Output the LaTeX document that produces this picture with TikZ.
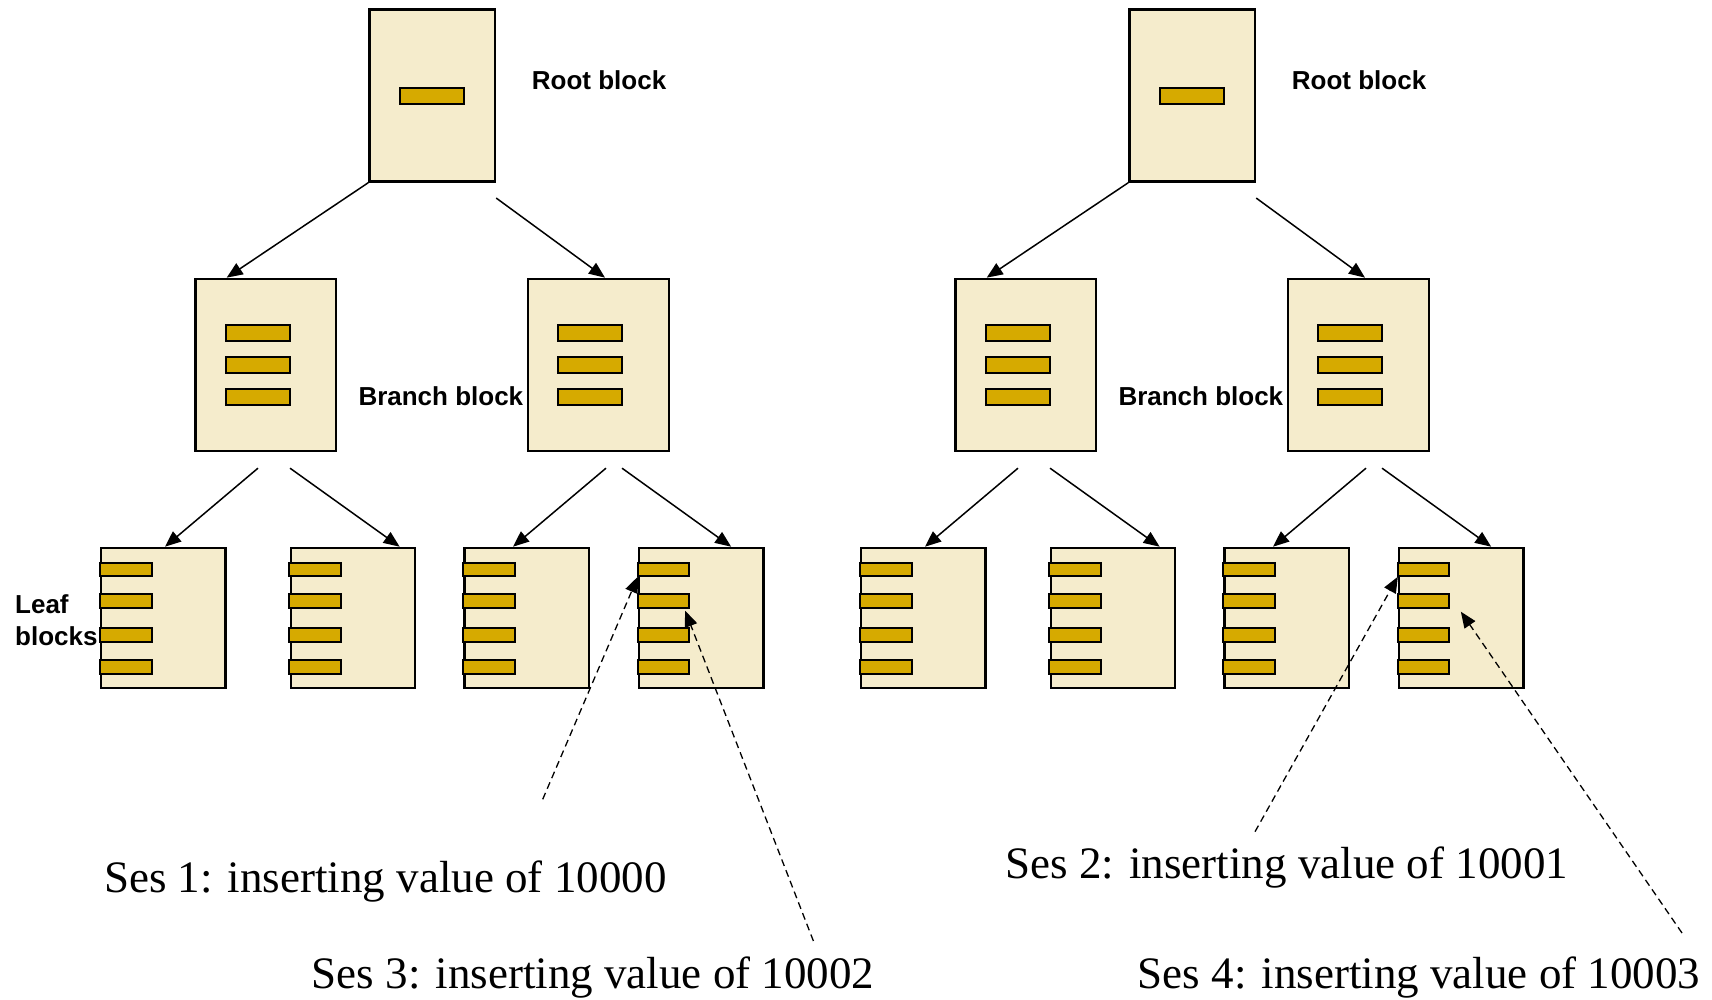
\documentclass[tikz,border=0pt]{standalone}
\usepackage{fontspec}
\setmainfont{Liberation Serif}
\newfontfamily\blockfont{Liberation Sans}
\usetikzlibrary{arrows.meta}
\definecolor{blockfill}{RGB}{245,236,204}
\definecolor{keyfill}{RGB}{214,170,0}
\begin{document}
\begin{tikzpicture}[x=1pt,y=-1pt,
  blockbox/.style={draw=black, line width=2.4pt, fill=blockfill, inner sep=0pt, rectangle},
  rootbox/.style={blockbox, minimum width=125.6pt, minimum height=172.1pt},
  branchbox/.style={blockbox, minimum width=140.6pt, minimum height=172.1pt},
  leafbox/.style={blockbox, minimum width=124.3pt, minimum height=140.2pt},
  keybar/.style={draw=black, line width=2pt, fill=keyfill},
  link/.style={line width=1.5pt, -{Triangle[length=16pt,width=13pt]}},
  session/.style={line width=1.3pt, dash pattern=on 7pt off 4.5pt, -{Triangle[length=16pt,width=13pt]}},
  tag/.style={font=\blockfont\bfseries\fontsize{26}{32.4}\selectfont, inner sep=0pt, anchor=base west},
  note/.style={font=\fontsize{45}{54}\selectfont, inner sep=0pt, anchor=base west}]
\useasboundingbox (0,0) rectangle (1712,999);

% two identical index trees, the second one shifted to the right
\foreach \t/\dx in {a/0,b/760}{
  \begin{scope}[xshift=\dx pt]
    % root block
    \node[rootbox] (\t-R) at (432.2,95.5) {};
    \draw[keybar] (400,88) rectangle (464.3,104);
    % branch blocks
    \node[branchbox] (\t-B1) at (265.8,364.9) {};
    \node[branchbox] (\t-B2) at (598.5,364.9) {};
    \foreach \bx in {226,558.3}{
      \foreach \by in {325,357,388.5}{
        \draw[keybar] (\bx,\by) rectangle ++(64,16);
      }
    }
    % leaf blocks
    \node[leafbox] (\t-L1) at (163.35,618) {};
    \node[leafbox] (\t-L2) at (353,618) {};
    \node[leafbox] (\t-L3) at (526.65,618) {};
    \node[leafbox] (\t-L4) at (701.2,618) {};
    \foreach \lx in {100,289.3,463.3,637.7}{
      \foreach \ly in {562.7,594,628.3,660}{
        \draw[keybar] (\lx,\ly) rectangle ++(51.7,13.5);
      }
    }
    % labels
    \node[tag] (\t-rootlabel) at (531.7,89) {Root block};
    \node[tag] (\t-branchlabel) at (358.3,405) {Branch block};
    % pointers between blocks
    \draw[link] (\t-R.south west) -- ([xshift=32.4pt]\t-B1.north west);
    \draw[link] ([yshift=-15.3pt]\t-R.south east) -- ([xshift=78pt]\t-B2.north west);
    \draw[link] ([shift={(63.7pt,-16pt)}]\t-B1.south west) -- ([xshift=65pt]\t-L1.north west);
    \draw[link] ([shift={(95.7pt,-16pt)}]\t-B1.south west) -- ([xshift=110pt]\t-L2.north west);
    \draw[link] ([shift={(79pt,-16pt)}]\t-B2.south west) -- ([xshift=49.7pt]\t-L3.north west);
    \draw[link] ([shift={(95pt,-16pt)}]\t-B2.south west) -- ([xshift=93.3pt]\t-L4.north west);
  \end{scope}
}

% the base of a two-line node sits on its last line
\node[tag, align=left] (leaflabel) at (15,645.7) {Leaf\\blocks};

% sessions inserting into the right-most leaf
\node[note] (n1) at (104,892.7) {Ses 1: inserting value of 10000};
\node[note] (n3) at (311.7,988.3) {Ses 3: inserting value of 10002};
\node[note] (n2) at (1005.5,878.5) {Ses 2: inserting value of 10001};
\node[note] (n4) at (1137.6,988.3) {Ses 4: inserting value of 10003};

\coordinate (s1) at (542.7,799.3);
\coordinate (s3) at (813.4,941);
\coordinate (s2) at (1255,831.7);
\coordinate (s4) at (1682,933);
\draw[session] (s1) -- ([yshift=-30pt]a-L4.north west);
\draw[session] (s3) -- ([shift={(47.3pt,-64pt)}]a-L4.north west);
\draw[session] (s2) -- ([yshift=-30pt]b-L4.north west);
\draw[session] (s4) -- ([shift={(63pt,-65pt)}]b-L4.north west);
\end{tikzpicture}
\end{document}
